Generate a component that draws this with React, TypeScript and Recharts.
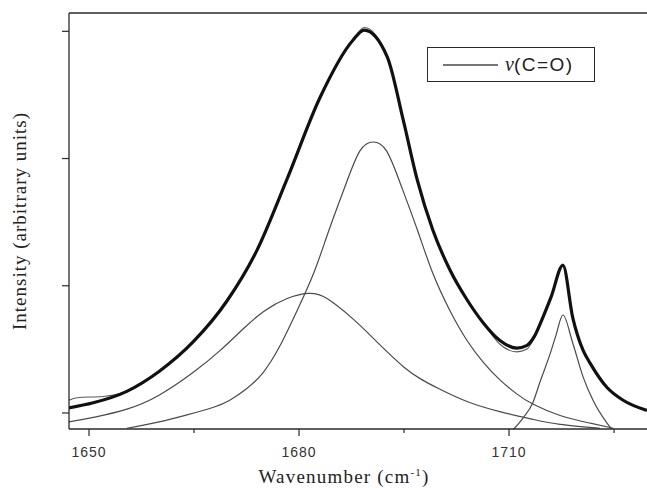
import { LineChart, Line, XAxis, YAxis, ReferenceLine, Legend } from 'recharts';

type Pt = [number, number];

// axis setup (wavenumber in cm-1, intensity in arbitrary units)
const X_DOMAIN: [number, number] = [1647.14, 1729.71];
const Y_DOMAIN: [number, number] = [-0.126, 3.144];
const X_TICKS = [1650, 1665, 1680, 1695, 1710, 1725];
const X_LABELED = [1650, 1680, 1710];
const Y_TICKS = [0, 1, 2, 3];

// experimental band
const measured: Pt[] = [
  [1647.1, 0.1], [1648.3, 0.12], [1652.0, 0.13], [1653.5, 0.14], [1655.4, 0.17],
  [1660.1, 0.33], [1664.9, 0.56], [1669.7, 0.88], [1674.0, 1.28], [1678.3, 1.84],
  [1683.0, 2.48], [1687.7, 2.93], [1689.3, 3.03], [1692.6, 2.8], [1694.9, 2.3],
  [1696.9, 1.83], [1699.1, 1.44], [1701.6, 1.12], [1704.0, 0.89], [1706.3, 0.71],
  [1708.7, 0.54], [1711.1, 0.48], [1712.5, 0.5], [1713.6, 0.59], [1714.6, 0.72],
  [1716.0, 0.91], [1717.7, 1.17], [1719.1, 0.75], [1720.6, 0.49], [1721.6, 0.39],
  [1724.0, 0.2], [1726.3, 0.1], [1729.7, 0.02],
];

// sum of the fitted components
const fitted: Pt[] = [
  [1647.1, 0.04], [1650.6, 0.08], [1655.4, 0.17], [1660.1, 0.33], [1664.9, 0.56],
  [1669.7, 0.88], [1674.0, 1.28], [1678.3, 1.84], [1683.0, 2.48], [1687.7, 2.93],
  [1689.3, 3.01], [1692.6, 2.8], [1694.9, 2.3], [1696.9, 1.83], [1699.1, 1.44],
  [1701.6, 1.12], [1704.0, 0.89], [1706.3, 0.71], [1708.7, 0.57], [1711.1, 0.51],
  [1712.5, 0.53], [1713.6, 0.6], [1714.6, 0.72], [1716.0, 0.91], [1717.7, 1.16],
  [1719.1, 0.75], [1720.6, 0.49], [1721.6, 0.39], [1724.0, 0.2], [1726.3, 0.1],
  [1729.7, 0.02],
];

// component bands
const bandBroad: Pt[] = [
  [1647.1, -0.07], [1651.0, -0.03], [1655.4, 0.03], [1660.0, 0.14], [1664.9, 0.32],
  [1668.7, 0.49], [1672.0, 0.66], [1675.0, 0.8], [1678.3, 0.9], [1681.3, 0.94],
  [1684.0, 0.9], [1687.7, 0.74], [1690.0, 0.62], [1692.6, 0.48], [1695.0, 0.36],
  [1697.3, 0.27], [1700.0, 0.19], [1704.0, 0.09], [1708.7, 0.01], [1713.4, -0.05],
  [1717.3, -0.09], [1723.0, -0.12],
];

const bandMain: Pt[] = [
  [1655.4, -0.12], [1660.0, -0.07], [1664.0, -0.015], [1667.8, 0.045], [1670.1, 0.1],
  [1672.5, 0.19], [1674.9, 0.32], [1677.2, 0.52], [1679.6, 0.79], [1682.1, 1.1],
  [1684.3, 1.44], [1686.7, 1.8], [1688.7, 2.06], [1690.6, 2.13], [1692.5, 2.06],
  [1694.5, 1.8], [1696.9, 1.44], [1699.1, 1.1], [1701.6, 0.8], [1704.0, 0.57],
  [1706.3, 0.4], [1708.7, 0.26], [1711.1, 0.15], [1713.4, 0.07], [1717.3, -0.02],
  [1721.6, -0.08], [1724.9, -0.12],
];

const bandHigh: Pt[] = [
  [1710.6, -0.13], [1712.0, -0.04], [1713.4, 0.08], [1714.4, 0.24], [1715.9, 0.47],
  [1716.7, 0.61], [1717.7, 0.77], [1719.1, 0.55], [1720.6, 0.28], [1722.0, 0.1],
  [1724.0, -0.08], [1724.7, -0.13],
];

const toRows = (pts: Pt[]) => pts.map(([wn, y]) => ({ wn, y }));

const AXIS_COLOR = '#2a2a2a';
const THIN = '#4a4a4a';
const SANS = '"Liberation Sans", Arial, sans-serif';
const SERIF = '"Liberation Serif", "Times New Roman", serif';

function XTick(props: any) {
  const { x, y, payload } = props;
  const major = X_LABELED.includes(payload.value);
  return (
    <g>
      <line x1={x} x2={x} y1={y} y2={y + (major ? 7 : 4)} stroke={AXIS_COLOR} strokeWidth={1.2} />
      {major && (
        <text x={x} y={y + 28} textAnchor="middle" fontFamily={SANS} fontSize={14} letterSpacing={1} fill="#333">
          {payload.value}
        </text>
      )}
    </g>
  );
}

function XTitle(props: any) {
  const vb = props.viewBox || { x: 69, y: 429, width: 578 };
  const cx = vb.x + vb.width / 2 - 14;
  return (
    <text x={cx} y={vb.y + 54} textAnchor="middle" fontFamily={SERIF} fontSize={19} letterSpacing={1.2} fill="#222">
      Wavenumber (cm
      <tspan dy={-7} fontSize={11}>-1</tspan>
      <tspan dy={7}>)</tspan>
    </text>
  );
}

function YTitle(props: any) {
  const vb = props.viewBox || { y: 13, height: 416 };
  const cy = vb.y + vb.height / 2;
  return (
    <text x={26} y={cy} transform={`rotate(-90 26 ${cy})`} textAnchor="middle" fontFamily={SERIF} fontSize={19} letterSpacing={1} fill="#222">
      Intensity (arbitrary units)
    </text>
  );
}

function LegendBox() {
  return (
    <div
      style={{
        width: 168,
        height: 35,
        boxSizing: 'border-box',
        border: `1.3px solid ${AXIS_COLOR}`,
        background: '#fff',
        display: 'flex',
        alignItems: 'center',
      }}
    >
      <svg width={70} height={20} style={{ marginLeft: 15 }}>
        <line x1={0} x2={55} y1={10} y2={10} stroke={THIN} strokeWidth={1.3} />
      </svg>
      <span style={{ fontFamily: SERIF, fontStyle: 'italic', fontSize: 20, color: '#222', marginLeft: -8 }}>ν</span>
      <span style={{ fontFamily: SANS, fontSize: 19, letterSpacing: 1.5, color: '#222' }}>(C=O)</span>
    </div>
  );
}

export default function App() {
  return (
    <div style={{ position: 'absolute', left: 0, top: 0, background: '#fff' }}>
      <LineChart width={647} height={488} margin={{ top: 13, right: 0, bottom: 0, left: 0 }}>
        <XAxis
          type="number"
          dataKey="wn"
          domain={X_DOMAIN}
          ticks={X_TICKS}
          interval={0}
          allowDataOverflow
          height={59}
          tickSize={0}
          tickMargin={0}
          tickLine={false}
          tick={<XTick />}
          axisLine={{ stroke: AXIS_COLOR, strokeWidth: 1.3 }}
          label={<XTitle />}
        />
        <YAxis
          type="number"
          dataKey="y"
          domain={Y_DOMAIN}
          ticks={Y_TICKS}
          allowDataOverflow
          width={69}
          tickSize={7}
          tickFormatter={() => ''}
          tickLine={{ stroke: AXIS_COLOR, strokeWidth: 1.2 }}
          axisLine={{ stroke: AXIS_COLOR, strokeWidth: 1.3 }}
          label={<YTitle />}
        />
        <ReferenceLine y={Y_DOMAIN[1]} stroke={AXIS_COLOR} strokeWidth={1.3} ifOverflow="visible" />
        <Legend
          layout="vertical"
          align="center"
          verticalAlign="middle"
          wrapperStyle={{ left: 427, top: 47, width: 168, height: 35 }}
          content={() => <LegendBox />}
        />
        <Line data={toRows(bandBroad)} dataKey="y" type="natural" stroke={THIN} strokeWidth={1.2} dot={false} isAnimationActive={false} legendType="none" />
        <Line data={toRows(bandMain)} dataKey="y" type="natural" stroke={THIN} strokeWidth={1.2} dot={false} isAnimationActive={false} legendType="none" />
        <Line data={toRows(bandHigh)} dataKey="y" type="monotone" stroke={THIN} strokeWidth={1.2} dot={false} isAnimationActive={false} legendType="none" />
        <Line data={toRows(measured)} dataKey="y" type="monotone" stroke="#5a5a5a" strokeWidth={1.1} dot={false} isAnimationActive={false} legendType="none" />
        <Line data={toRows(fitted)} dataKey="y" type="monotone" stroke="#111" strokeWidth={3.2} dot={false} isAnimationActive={false} legendType="none" />
      </LineChart>
    </div>
  );
}
